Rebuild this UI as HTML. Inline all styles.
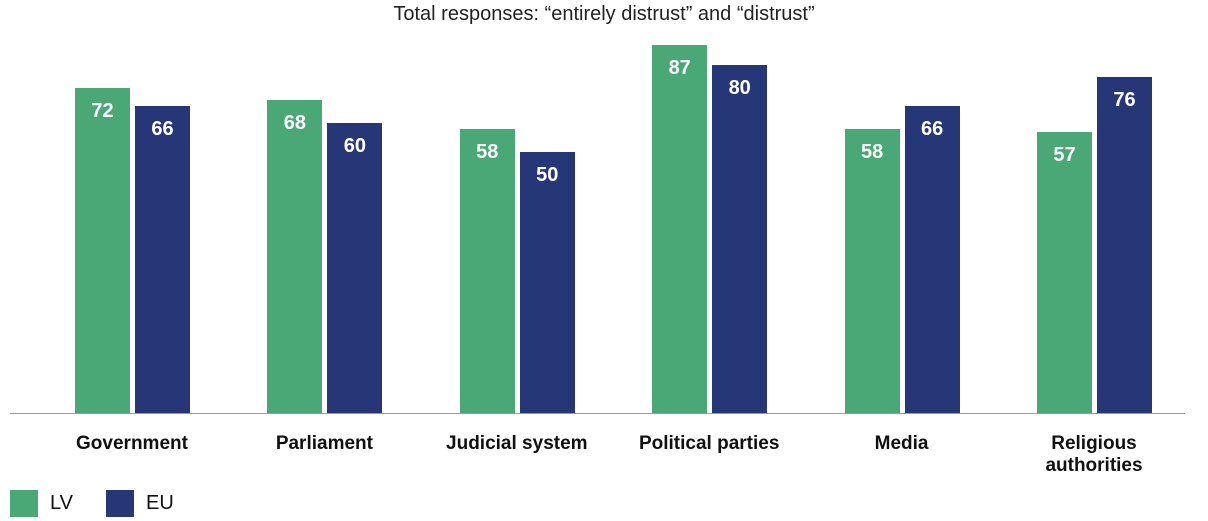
<!DOCTYPE html>
<html><head><meta charset="utf-8"><style>
body{margin:0;width:1208px;height:521px;background:#fff;font-family:"Liberation Sans",sans-serif;position:relative;overflow:hidden}
.t{position:absolute;top:3px;left:0;width:1208px;text-align:center;font-size:20px;color:#222}
.b{position:absolute;width:55px;bottom:108px}
.g{background:#4aa877}.n{background:#263777}
.v{position:absolute;width:55px;text-align:center;color:#fff;font-weight:bold;font-size:20px}
.l{position:absolute;top:433px;width:200px;text-align:center;font-weight:bold;font-size:19px;color:#111;line-height:22px}
.ax{position:absolute;left:10px;width:1175px;top:413px;height:1px;background:#999}
.sq{position:absolute;top:490px;width:28px;height:27px}
.lt{position:absolute;top:492px;font-size:20px;color:#111}
</style></head><body>
<div class="t">Total responses: “entirely distrust” and “distrust”</div>
<div id="c"></div>
<div class="ax"></div>
<div class="sq g" style="left:10px"></div><div class="lt" style="left:50px">LV</div>
<div class="sq n" style="left:106px"></div><div class="lt" style="left:146px">EU</div>
<script>
var d=[["Government",72,66],["Parliament",68,60],["Judicial system",58,50],["Political parties",87,80],["Media",58,66],["Religious<br>authorities",57,76]];
var h="";
d.forEach(function(r,i){var x=75+i*192.4;
[[r[1],"g",x],[r[2],"n",x+60]].forEach(function(b){var top=45+(87-b[0])*2.89;
h+='<div class="b '+b[1]+'" style="left:'+b[2]+'px;top:'+top+'px"></div><div class="v" style="left:'+b[2]+'px;top:'+(top+12)+'px">'+b[0]+'</div>';});
h+='<div class="l" style="left:'+(x+57-100)+'px">'+r[0]+'</div>';});
document.getElementById("c").innerHTML=h;
</script>
</body></html>
